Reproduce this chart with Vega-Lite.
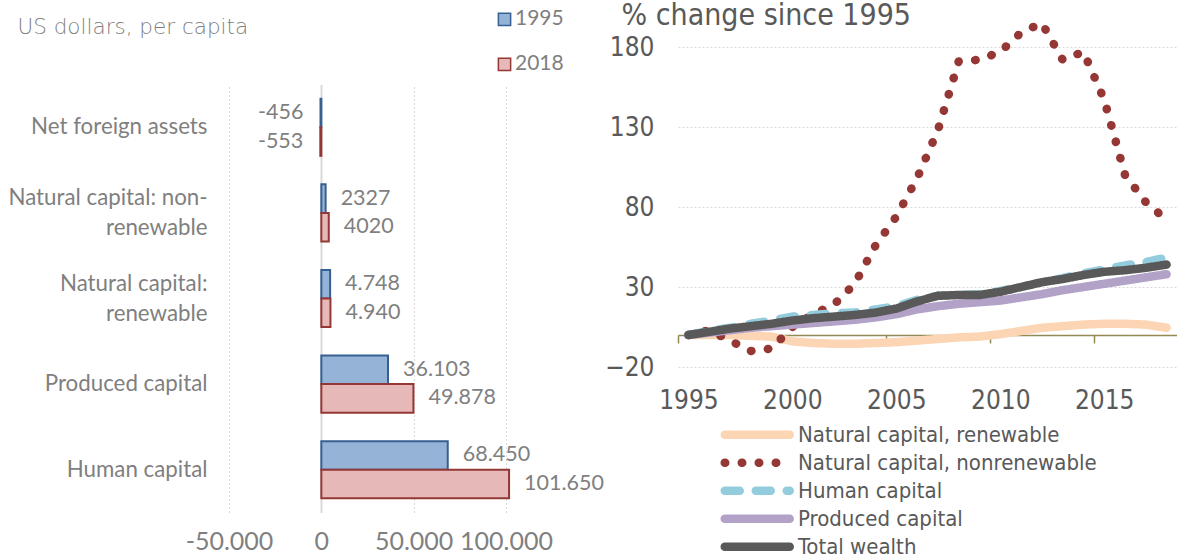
{
  "$schema": "https://vega.github.io/schema/vega-lite/v6.json",
  "background": "white",
  "padding": {"left": 7, "top": 0, "right": 0, "bottom": 0},
  "autosize": {"type": "pad"},
  "config": {"view": {"stroke": null}},
  "center": true,
  "spacing": 0,
  "resolve": {
    "scale": {"color": "independent", "strokeDash": "independent", "fill": "independent", "stroke": "independent"},
    "legend": {"color": "independent", "strokeDash": "independent", "fill": "independent", "stroke": "independent"}
  },
  "hconcat": [
    {
      "width": 277,
      "height": 428,
      "data": {"values": [
        {"category": "Net foreign assets", "year": "1995", "value": -456, "label": "-456"},
        {"category": "Net foreign assets", "year": "2018", "value": -553, "label": "-553"},
        {"category": "Natural capital: non-renewable", "year": "1995", "value": 2327, "label": "2327"},
        {"category": "Natural capital: non-renewable", "year": "2018", "value": 4020, "label": "4020"},
        {"category": "Natural capital: renewable", "year": "1995", "value": 4748, "label": "4.748"},
        {"category": "Natural capital: renewable", "year": "2018", "value": 4940, "label": "4.940"},
        {"category": "Produced capital", "year": "1995", "value": 36103, "label": "36.103"},
        {"category": "Produced capital", "year": "2018", "value": 49878, "label": "49.878"},
        {"category": "Human capital", "year": "1995", "value": 68450, "label": "68.450"},
        {"category": "Human capital", "year": "2018", "value": 101650, "label": "101.650"}
      ]},
      "encoding": {
        "y": {"field": "category", "type": "nominal", "sort": null,
          "scale": {"paddingInner": 0.3333, "paddingOuter": 0.1667},
          "axis": {"title": "US dollars, per capita", "titleAngle": 0, "titleX": -212, "titleY": -51.5, "titleAlign": "left", "titleBaseline": "alphabetic",
            "titleFont": "DejaVu Sans", "titleFontWeight": 200, "titleFontSize": 21.5, "titleColor": "#7f7f7f",
            "domain": false, "ticks": false, "labelPadding": 22, "labelFont": "Lato", "labelFontSize": 22.3, "labelColor": "#7f7f7f", "labelLineHeight": 30, "labelLimit": 400,
            "labelOffset": {"condition": {"test": "indexof(datum.value, 'Natural') === 0", "value": -15}, "value": 0},
            "labelExpr": "datum.label == 'Natural capital: non-renewable' ? ['Natural capital: non-', 'renewable'] : datum.label == 'Natural capital: renewable' ? ['Natural capital:', 'renewable'] : datum.label"}},
        "yOffset": {"field": "year", "type": "nominal", "sort": null, "scale": {"paddingInner": 0, "paddingOuter": 0}},
        "x": {"field": "value", "type": "quantitative",
          "scale": {"domain": [-50000, 100000], "nice": false},
          "axis": {"title": null, "domain": false, "ticks": false, "values": [-50000, 0, 50000, 100000], "grid": true, "gridColor": "#d9d9d9",
            "gridDash": {"condition": {"test": "datum.value === 0", "value": []}, "value": [2, 2]},
            "gridWidth": {"condition": {"test": "datum.value === 0", "value": 2}, "value": 1},
            "labelOverlap": false, "labelFlush": false, "labelPadding": 17, "labelFont": "Lato", "labelFontSize": 25, "labelColor": "#7f7f7f",
            "labelExpr": "(datum.value < 0 ? '-' : '') + replace(format(abs(datum.value), ','), regexp(',', 'g'), '.')"}}
      },
      "layer": [
        {
          "mark": {"type": "bar", "strokeWidth": 2},
          "encoding": {
            "fill": {"field": "year", "type": "nominal", "scale": {"domain": ["1995", "2018"], "range": ["#95b3d7", "#e6b9b8"]},
              "legend": {"title": null, "orient": "none", "direction": "vertical", "legendX": 260, "legendY": -80.7, "symbolType": "square", "symbolSize": 150, "symbolStrokeWidth": 1.5, "labelFont": "Lato", "labelFontSize": 21, "labelColor": "#7f7f7f", "rowPadding": 23, "labelOffset": 0, "padding": 5}},
            "stroke": {"field": "year", "type": "nominal", "scale": {"domain": ["1995", "2018"], "range": ["#376092", "#953735"]},
              "legend": {"title": null, "orient": "none", "direction": "vertical", "legendX": 260, "legendY": -80.7, "symbolType": "square", "symbolSize": 150, "symbolStrokeWidth": 1.5, "labelFont": "Lato", "labelFontSize": 21, "labelColor": "#7f7f7f", "rowPadding": 23, "labelOffset": 0, "padding": 5}}
          }
        },
        {
          "transform": [{"filter": "datum.value >= 0"}],
          "mark": {"type": "text", "align": "left", "baseline": "middle", "dx": 15, "font": "Lato", "fontSize": 21.5, "color": "#7f7f7f"},
          "encoding": {"text": {"field": "label"}}
        },
        {
          "transform": [{"filter": "datum.value < 0"}],
          "mark": {"type": "text", "align": "right", "baseline": "middle", "dx": -17, "font": "Lato", "fontSize": 21.5, "color": "#7f7f7f"},
          "encoding": {"text": {"field": "label"}}
        }
      ]
    },
    {
      "width": 499,
      "height": 336,
      "data": {"values": [
        {"year": 1995, "Natural capital, renewable": 0, "Natural capital, nonrenewable": 0, "Human capital": 0, "Produced capital": 0, "Total wealth": 0},
        {"year": 1996, "Natural capital, renewable": 0, "Natural capital, nonrenewable": 3, "Human capital": 2.5, "Produced capital": 1.5, "Total wealth": 2},
        {"year": 1997, "Natural capital, renewable": 0, "Natural capital, nonrenewable": -3.5, "Human capital": 4.5, "Produced capital": 3, "Total wealth": 4},
        {"year": 1998, "Natural capital, renewable": -0.5, "Natural capital, nonrenewable": -10, "Human capital": 7, "Produced capital": 4.5, "Total wealth": 5.5},
        {"year": 1999, "Natural capital, renewable": -1, "Natural capital, nonrenewable": -8.5, "Human capital": 9, "Produced capital": 5.5, "Total wealth": 7},
        {"year": 2000, "Natural capital, renewable": -4, "Natural capital, nonrenewable": 5, "Human capital": 11.5, "Produced capital": 6.5, "Total wealth": 9},
        {"year": 2001, "Natural capital, renewable": -5, "Natural capital, nonrenewable": 13, "Human capital": 12.5, "Produced capital": 7.5, "Total wealth": 10.5},
        {"year": 2002, "Natural capital, renewable": -5.5, "Natural capital, nonrenewable": 19, "Human capital": 13.5, "Produced capital": 8.5, "Total wealth": 11.5},
        {"year": 2003, "Natural capital, renewable": -5.5, "Natural capital, nonrenewable": 32, "Human capital": 14, "Produced capital": 9.5, "Total wealth": 12.5},
        {"year": 2004, "Natural capital, renewable": -5, "Natural capital, nonrenewable": 56, "Human capital": 16, "Produced capital": 11, "Total wealth": 14},
        {"year": 2005, "Natural capital, renewable": -4.5, "Natural capital, nonrenewable": 74, "Human capital": 18, "Produced capital": 13, "Total wealth": 16.5},
        {"year": 2006, "Natural capital, renewable": -3.5, "Natural capital, nonrenewable": 98, "Human capital": 22, "Produced capital": 16, "Total wealth": 21},
        {"year": 2007, "Natural capital, renewable": -2.5, "Natural capital, nonrenewable": 128, "Human capital": 24.5, "Produced capital": 18, "Total wealth": 24.5},
        {"year": 2008, "Natural capital, renewable": -1.5, "Natural capital, nonrenewable": 171, "Human capital": 25, "Produced capital": 19.5, "Total wealth": 25},
        {"year": 2009, "Natural capital, renewable": -1, "Natural capital, nonrenewable": 172, "Human capital": 25.5, "Produced capital": 20.5, "Total wealth": 25},
        {"year": 2010, "Natural capital, renewable": 0.5, "Natural capital, nonrenewable": 177, "Human capital": 27.5, "Produced capital": 21.5, "Total wealth": 27},
        {"year": 2011, "Natural capital, renewable": 2.5, "Natural capital, nonrenewable": 189, "Human capital": 30, "Produced capital": 23.5, "Total wealth": 30},
        {"year": 2012, "Natural capital, renewable": 4.5, "Natural capital, nonrenewable": 195, "Human capital": 33, "Produced capital": 25.5, "Total wealth": 33},
        {"year": 2013, "Natural capital, renewable": 5.5, "Natural capital, nonrenewable": 172, "Human capital": 35.5, "Produced capital": 28, "Total wealth": 35},
        {"year": 2014, "Natural capital, renewable": 6.5, "Natural capital, nonrenewable": 177, "Human capital": 38.5, "Produced capital": 30, "Total wealth": 37.5},
        {"year": 2015, "Natural capital, renewable": 7, "Natural capital, nonrenewable": 147, "Human capital": 41, "Produced capital": 32, "Total wealth": 39.5},
        {"year": 2016, "Natural capital, renewable": 7, "Natural capital, nonrenewable": 100, "Human capital": 43.5, "Produced capital": 34, "Total wealth": 40.5},
        {"year": 2017, "Natural capital, renewable": 6.5, "Natural capital, nonrenewable": 83, "Human capital": 45.5, "Produced capital": 36, "Total wealth": 42},
        {"year": 2018, "Natural capital, renewable": 4.5, "Natural capital, nonrenewable": 72, "Human capital": 48.5, "Produced capital": 38, "Total wealth": 44}
      ]},
      "transform": [
        {"fold": ["Natural capital, renewable", "Natural capital, nonrenewable", "Human capital", "Produced capital", "Total wealth"], "as": ["series", "value"]}
      ],
      "mark": {"type": "line", "strokeWidth": 8.5, "strokeCap": "round", "strokeJoin": "round", "clip": false},
      "encoding": {
        "x": {"field": "year", "type": "quantitative",
          "scale": {"domain": [1994.5, 2018.5], "nice": false, "zero": false},
          "axis": {"title": null, "values": [1995, 2000, 2005, 2010, 2015], "format": "d", "grid": false,
            "domain": true, "domainColor": "#938953", "domainWidth": 1.5,
            "ticks": true, "tickColor": "#938953", "tickWidth": 1.5, "tickSize": 8, "tickOffset": -10.4, "labelOffset": 10.4,
            "offset": -32, "labelPadding": 44, "labelFont": "DejaVu Sans Condensed, DejaVu Sans", "labelFontSize": 26, "labelColor": "#595959"}},
        "y": {"field": "value", "type": "quantitative",
          "scale": {"domain": [-20, 190], "nice": false, "zero": false},
          "axis": {"title": "% change since 1995", "titleAngle": 0, "titleX": -57, "titleY": -7, "titleAlign": "left", "titleBaseline": "alphabetic",
            "titleFont": "DejaVu Sans Condensed, DejaVu Sans", "titleFontWeight": "normal", "titleFontSize": 30, "titleColor": "#595959",
            "values": [-20, 30, 80, 130, 180], "domain": false, "ticks": false, "grid": true, "gridColor": "#d9d9d9", "gridDash": [2, 2],
            "labelPadding": 24, "labelFont": "DejaVu Sans Condensed, DejaVu Sans", "labelFontSize": 26, "labelColor": "#595959"}},
        "color": {"field": "series", "type": "nominal", "sort": null,
          "scale": {"domain": ["Natural capital, renewable", "Natural capital, nonrenewable", "Human capital", "Produced capital", "Total wealth"],
            "range": ["#fcd5b5", "#953735", "#93cddd", "#b3a2c7", "#595959"]},
          "legend": {"title": null, "orient": "none", "direction": "vertical", "legendX": -12.75, "legendY": 343, "symbolType": "M0,0H8", "symbolSize": 264, "symbolStrokeWidth": 8.5, "labelLimit": 500,
            "labelFont": "DejaVu Sans Condensed, DejaVu Sans", "labelFontSize": 22, "labelColor": "#595959", "rowPadding": 0, "clipHeight": 27.5, "labelOffset": 60.75, "padding": 47,
            "encode": {"symbols": {"update": {"strokeCap": {"value": "round"}}}}}},
        "strokeDash": {"field": "series", "type": "nominal", "sort": null,
          "scale": {"domain": ["Natural capital, renewable", "Natural capital, nonrenewable", "Human capital", "Produced capital", "Total wealth"],
            "range": [[1, 0], [0.5, 16.5], [15, 16], [1, 0], [1, 0]]},
          "legend": {"title": null, "orient": "none", "direction": "vertical", "legendX": -12.75, "legendY": 343, "symbolType": "M0,0H8", "symbolSize": 264, "symbolStrokeWidth": 8.5, "labelLimit": 500,
            "labelFont": "DejaVu Sans Condensed, DejaVu Sans", "labelFontSize": 22, "labelColor": "#595959", "rowPadding": 0, "clipHeight": 27.5, "labelOffset": 60.75, "padding": 47,
            "encode": {"symbols": {"update": {"strokeCap": {"value": "round"}}}}}}
      }
    }
  ]
}
